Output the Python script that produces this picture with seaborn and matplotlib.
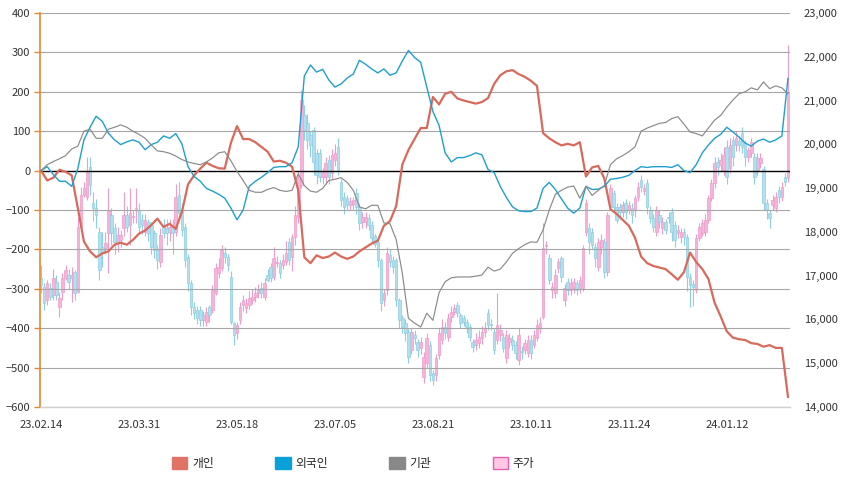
import numpy as np
import pandas as pd
import matplotlib
matplotlib.use("Agg")
import matplotlib.pyplot as plt
from matplotlib.patches import Patch
import seaborn as sns

# x axis labels (one every 32 trading days)
date_labels = ["23.02.14", "23.03.31", "23.05.18", "23.07.05",
               "23.08.21", "23.10.11", "23.11.24", "24.01.12"]

# cumulative net buying, sampled every 2 trading days
individual = [0, -25, -18, 2, -3, -12, -95, -180, -205, -220, -210, -205, -188, -183, -188, -176,
              -160, -152, -138, -122, -143, -135, -148, -105, -35, -12, 5, 20, 12, 6, 5, 70,
              113, 80, 80, 72, 60, 48, 23, 25, 20, 10, -50, -220, -235, -215, -222, -218,
              -208, -218, -224, -218, -205, -195, -185, -178, -140, -128, -90, 15, 52, 80, 108, 108,
              187, 168, 195, 200, 183, 178, 174, 170, 174, 184, 220, 242, 252, 255, 245, 238,
              228, 215, 95, 82, 72, 64, 68, 64, 72, -15, 8, 12, -20, -98, -110, -125,
              -140, -170, -218, -235, -242, -246, -250, -263, -277, -258, -208, -232, -250, -275, -335, -370,
              -408, -424, -428, -430, -438, -440, -447, -443, -450, -450, -575]
foreign = [0, 10, -10, -27, -27, -40, 5, 78, 110, 138, 125, 95, 78, 66, 73, 78,
           72, 53, 66, 72, 88, 82, 94, 68, 10, -15, -27, -45, -52, -60, -70, -95,
           -125, -100, -40, -27, -17, -5, 8, 10, 10, 20, 60, 240, 268, 250, 257, 230,
           212, 220, 235, 245, 280, 270, 258, 248, 258, 242, 248, 278, 305, 287, 275, 212,
           150, 115, 45, 22, 33, 33, 38, 45, 40, 3, -5, -40, -68, -92, -102, -104,
           -104, -95, -45, -30, -48, -72, -95, -108, -95, -40, -48, -47, -40, -22, -20, -17,
           -12, 0, 10, 8, 10, 10, 10, 8, 15, 0, -5, 15, 45, 65, 82, 92,
           110, 98, 85, 70, 62, 75, 80, 72, 78, 88, 235]
institution = [0, 15, 23, 30, 38, 55, 62, 100, 105, 82, 82, 105, 110, 116, 110, 100,
               92, 82, 65, 50, 48, 44, 37, 28, 22, 18, 15, 22, 32, 45, 48, 25,
               -2, -25, -50, -55, -55, -48, -43, -50, -53, -50, -8, -38, -52, -55, -45, -25,
               -22, -18, -30, -50, -92, -97, -88, -88, -133, -135, -175, -260, -375, -387, -397, -362,
               -380, -310, -282, -272, -270, -270, -270, -268, -265, -245, -255, -250, -232, -210, -198, -188,
               -181, -182, -150, -100, -60, -50, -42, -39, -70, -40, -63, -50, -38, 15, 30, 38,
               48, 60, 100, 108, 114, 120, 122, 132, 137, 118, 98, 94, 88, 108, 128, 140,
               161, 179, 195, 200, 210, 205, 225, 208, 215, 210, 195]

# daily price candles
price_open = [16950, 16740, 16440, 16720, 16560, 16860, 16280, 16630, 16950, 17020,
              16950, 17080, 16630, 18110, 18840, 18800, 19480, 18660, 18550, 18000,
              17660, 17630, 17970, 18390, 18090, 17770, 17820, 18090, 18390, 18160,
              18330, 18500, 18500, 18270, 17990, 18230, 18160, 17970, 17590, 17310,
              18110, 18090, 17990, 18110, 18000, 18840, 18500, 18110, 17430, 16830,
              16280, 16220, 16210, 15990, 15940, 16280, 16220, 16600, 17060, 17180,
              17520, 17430, 16970, 15920, 15690, 15990, 16330, 16260, 16330, 16440,
              16510, 16600, 16720, 16510, 17020, 17200, 16970, 17290, 17290, 17240,
              17310, 17770, 17430, 17880, 18340, 19070, 20670, 20490, 20210, 20330,
              19800, 19800, 19250, 19250, 19640, 19340, 19640, 19940, 19140, 18800,
              18770, 18610, 18640, 18890, 18570, 18220, 18220, 18320, 18160, 17900,
              17770, 17360, 16450, 16670, 17470, 17360, 17360, 16440, 16030, 15920,
              15710, 15300, 15650, 15480, 15350, 14680, 15000, 15420, 14780, 14730,
              15190, 15530, 15830, 15600, 16050, 16170, 16330, 16100, 16030, 15940,
              15830, 15480, 15420, 15460, 15580, 15710, 16150, 15880, 15710, 15530,
              15650, 15600, 15120, 15480, 15530, 15420, 15070, 15260, 15300, 15230,
              15530, 15420, 15570, 15800, 16060, 17670, 17400, 16670, 16600, 17170,
              17400, 16440, 16850, 16670, 16720, 16830, 16720, 16720, 18000, 18090,
              18000, 17650, 17200, 17650, 17770, 17080, 18570, 18890, 18570, 18570,
              18450, 18660, 18500, 18540, 18500, 18800, 19190, 18930, 19110, 18500,
              18320, 18000, 18390, 18090, 18230, 18330, 18450, 18160, 17970, 17880,
              17990, 17880, 16970, 16810, 16670, 17860, 17970, 18000, 18270, 18770,
              19110, 19600, 19530, 19410, 19940, 19460, 20100, 19980, 20080, 20260,
              20030, 19710, 19800, 19710, 19410, 19570, 19440, 18660, 18430, 18610,
              18550, 18960, 18800, 19250, 19230]
price_close = [16790, 16380, 16830, 16510, 16950, 16560, 16490, 16950, 17130, 16860,
               17020, 16600, 18110, 18840, 19000, 19370, 19070, 18550, 18390, 17130,
               17520, 17750, 18500, 17970, 17770, 17930, 17930, 18390, 18110, 18430,
               18360, 18550, 18110, 18160, 18270, 17970, 17660, 17590, 17360, 17930,
               17970, 17970, 18110, 17970, 18800, 18430, 18040, 17360, 16830, 16280,
               16150, 16030, 15990, 16100, 16170, 16100, 16670, 17180, 17200, 17590,
               17430, 17240, 15940, 15650, 15870, 16280, 16440, 16380, 16490, 16510,
               16600, 16670, 16600, 16830, 16900, 16950, 17400, 17310, 17060, 17360,
               17520, 17360, 17880, 18390, 19230, 21010, 20330, 20100, 19990, 19600,
               19300, 19250, 19370, 19570, 19250, 19760, 19800, 19410, 18730, 18570,
               18610, 18700, 18730, 18570, 18200, 18340, 18340, 18160, 17860, 17720,
               17360, 16380, 16600, 17520, 17310, 17200, 16440, 15990, 15830, 15690,
               15140, 15710, 15580, 15300, 15480, 15140, 15570, 14730, 14620, 15120,
               15690, 15830, 15690, 16030, 16170, 16260, 16150, 15920, 15940, 15830,
               15600, 15370, 15530, 15600, 15710, 15800, 15870, 15870, 15300, 15870,
               15760, 15350, 15650, 15570, 15420, 15230, 15650, 15250, 15460, 15530,
               15230, 15650, 15870, 15920, 17630, 17700, 16900, 16740, 17010, 17310,
               16970, 16720, 16670, 16830, 16850, 16670, 16900, 17630, 18660, 17770,
               17700, 17400, 17770, 17810, 17080, 18390, 19000, 18570, 18270, 18450,
               18610, 18450, 18610, 18390, 18770, 19030, 19030, 19000, 18570, 18320,
               18110, 18500, 18230, 18230, 18040, 18310, 17990, 17810, 18040, 17990,
               17880, 16970, 16790, 16740, 17860, 18110, 18200, 18270, 18770, 19110,
               19570, 19480, 19640, 19760, 19250, 19980, 19710, 20140, 19990, 19940,
               19710, 19870, 20050, 19250, 19690, 19690, 18660, 18500, 18320, 18730,
               18800, 18800, 19030, 19140, 21200]
price_high = [17240, 16830, 16900, 16830, 17150, 17010, 16630, 17060, 17240, 17150,
              17200, 17130, 18340, 19030, 19140, 19710, 19700, 18900, 18750, 18110,
              18000, 18000, 19000, 18550, 18200, 18110, 18050, 18900, 18600, 19000,
              18500, 19000, 18660, 18400, 18400, 18300, 18230, 18050, 17700, 18100,
              18300, 18300, 18300, 18300, 19100, 19140, 18660, 18200, 17500, 16900,
              16400, 16300, 16300, 16200, 16280, 16330, 16780, 17300, 17400, 17700,
              17650, 17500, 17100, 15950, 15950, 16400, 16550, 16500, 16650, 16700,
              16750, 16800, 16850, 16950, 17150, 17300, 17650, 17450, 17350, 17500,
              17800, 17850, 17950, 18600, 19400, 21250, 20900, 20700, 20300, 20400,
              19900, 19900, 19450, 19700, 19750, 19900, 20000, 20150, 19200, 18900,
              18850, 18800, 18800, 19000, 18650, 18450, 18450, 18400, 18250, 17950,
              17850, 17400, 16700, 17650, 17600, 17450, 17400, 16500, 16100, 16000,
              15800, 15800, 15750, 15550, 15600, 15250, 15700, 15500, 14850, 15200,
              15800, 16000, 15950, 16150, 16300, 16350, 16400, 16150, 16100, 16000,
              15900, 15550, 15700, 15750, 15850, 15950, 16250, 16000, 15800, 16600,
              15900, 15700, 15750, 15700, 15650, 15500, 15800, 15400, 15550, 15650,
              15650, 15750, 16000, 16050, 18200, 17800, 17500, 16850, 17150, 17400,
              17450, 16800, 16950, 16950, 16950, 16900, 17000, 17700, 18750, 18200,
              18100, 17750, 17850, 17950, 17850, 18450, 19100, 18950, 18650, 18650,
              18700, 18750, 18700, 18650, 18850, 19150, 19300, 19100, 19200, 18600,
              18400, 18600, 18500, 18350, 18300, 18450, 18550, 18250, 18150, 18100,
              18100, 17950, 17050, 16900, 17950, 18200, 18300, 18400, 18850, 19200,
              19700, 19700, 19800, 19950, 20100, 20150, 20200, 20300, 20200, 20400,
              20100, 19950, 20150, 19800, 19800, 19800, 19500, 18750, 18500, 18850,
              18900, 19050, 19150, 19350, 22270]
price_low = [16600, 16210, 16330, 16440, 16440, 16440, 16060, 16440, 16900, 16700,
             16400, 16440, 16600, 18050, 18790, 18730, 18840, 18250, 18090, 16900,
             17200, 17500, 17060, 17700, 17500, 17550, 17650, 17900, 18000, 17700,
             18200, 18200, 17950, 17950, 17900, 17800, 17500, 17400, 17160, 17200,
             17850, 17700, 17800, 17500, 17900, 18300, 17900, 17200, 16650, 16100,
             16000, 15900, 15850, 15850, 15850, 15950, 16150, 16550, 16950, 17100,
             17300, 17100, 15900, 15420, 15550, 15900, 16200, 16150, 16250, 16350,
             16400, 16500, 16500, 16450, 16850, 16850, 16900, 17200, 16950, 17150,
             17250, 17250, 17100, 17700, 18200, 19000, 20100, 19900, 19700, 19300,
             19100, 19150, 19100, 19100, 19100, 19200, 19500, 19300, 18600, 18400,
             18500, 18500, 18500, 18400, 18050, 18100, 18100, 18050, 17750, 17650,
             17200, 16200, 16300, 16550, 17200, 17050, 16300, 15800, 15700, 15500,
             15000, 15200, 15450, 15150, 15200, 14550, 14900, 14600, 14500, 14600,
             15100, 15450, 15550, 15500, 15950, 16100, 16050, 15800, 15850, 15700,
             15500, 15250, 15300, 15350, 15450, 15600, 15750, 15750, 15200, 15450,
             15500, 15250, 15000, 15350, 15300, 15100, 14950, 15100, 15200, 15150,
             15100, 15350, 15500, 15700, 16000, 17500, 16800, 16500, 16500, 17050,
             16850, 16300, 16550, 16550, 16600, 16550, 16600, 16650, 17900, 17500,
             17600, 17200, 17100, 17500, 16950, 17000, 18500, 18450, 18200, 18300,
             18350, 18300, 18400, 18200, 18350, 18700, 18900, 18850, 18400, 18200,
             18000, 17900, 18100, 17950, 17950, 18200, 17800, 17650, 17850, 17750,
             17700, 16650, 16280, 16300, 16600, 17800, 17900, 17900, 18200, 18700,
             19000, 19300, 19400, 19300, 19100, 19350, 19500, 19850, 19850, 19800,
             19500, 19600, 19700, 19100, 19300, 19450, 18500, 18300, 18100, 18500,
             18450, 18650, 18700, 19050, 19150]

series_names = ["개인", "외국인", "기관"]
series_colors = {"개인": "#d9695b", "외국인": "#1f9fcf", "기관": "#8a8a8a"}
series_widths = {"개인": 1.6, "외국인": 1.0, "기관": 0.85}

sns.set_theme(style="white")
plt.rcParams["font.family"] = ["Noto Sans CJK KR", "DejaVu Sans"]

line_days = np.arange(0, 2 * len(individual), 2)
lines = pd.DataFrame({
    "day": np.tile(line_days, 3),
    "value": individual + foreign + institution,
    "series": np.repeat(series_names, len(line_days)),
})

candles = pd.DataFrame({"open": price_open, "close": price_close,
                        "high": price_high, "low": price_low})
candles["day"] = np.arange(len(candles))
up = candles["close"] >= candles["open"]

fig = plt.figure(figsize=(8.41, 4.80), dpi=100)
ax = fig.add_axes([40 / 841, 1 - 407 / 480, 750 / 841, 394 / 480])
ax2 = ax.twinx()

# candles on the price axis (drawn underneath)
pink_body, pink_edge = "#f7b4da", "#ee9ccb"
blue_body, blue_edge = "#b3e0ee", "#8dcfe3"
for is_up, body, edge in [(True, pink_body, pink_edge), (False, blue_body, blue_edge)]:
    sub = candles[up == is_up]
    ax2.vlines(sub["day"], sub["low"], sub["high"], color=edge, lw=0.8, zorder=1)
    ax2.bar(sub["day"], (sub["close"] - sub["open"]).abs().clip(lower=25),
            bottom=sub[["open", "close"]].min(axis=1), width=0.85,
            color=body, edgecolor=edge, linewidth=0.5, zorder=2)

ax2.set_ylim(14000, 23000)
ax2.set_yticks(range(14000, 23001, 1000))
ax2.set_yticklabels([f"{v:,}" for v in range(14000, 23001, 1000)])
ax2.tick_params(axis="y", length=0, pad=10, labelsize=8, labelcolor="#333333")
for s in ax2.spines.values():
    s.set_visible(False)

# investor lines on the left axis (drawn on top)
ax.set_zorder(ax2.get_zorder() + 1)
ax.patch.set_visible(False)
for v in range(-600, 401, 100):
    ax.axhline(v, color="#000000" if v == 0 else "#a6a6a6",
               lw=1.0 if v == 0 else 0.8, zorder=0)
sns.lineplot(data=lines, x="day", y="value", hue="series", size="series",
             palette=series_colors, sizes=series_widths, legend=False, ax=ax, zorder=3)

ax.set_ylim(-600, 400)
ax.set_yticks(range(-600, 401, 100))
ax.set_xlim(-0.35, len(candles) - 0.35)
ax.set_xticks(np.arange(len(date_labels)) * 32)
ax.set_xticklabels(date_labels)
ax.set_xlabel("")
ax.set_ylabel("")
ax.tick_params(axis="y", length=4, width=1, color="#e8872e", labelsize=8,
               labelcolor="#333333", pad=3)
ax.tick_params(axis="x", length=4, width=0.8, color="#c8c8c8", labelsize=8,
               labelcolor="#333333", pad=5)
ax.spines["left"].set_color("#e8872e")
ax.spines["left"].set_linewidth(1.2)
ax.spines["bottom"].set_color("#d0d0d0")
ax.spines["bottom"].set_linewidth(1.0)
ax.spines["top"].set_visible(False)
ax.spines["right"].set_visible(False)

handles = [Patch(facecolor="#e07366", edgecolor="#e07366"),
           Patch(facecolor="#0aa0d8", edgecolor="#0aa0d8"),
           Patch(facecolor="#888888", edgecolor="#888888"),
           Patch(facecolor="#ffc6e6", edgecolor="#e060b0")]
fig.legend(handles, ["개인", "외국인", "기관", "주가"], loc="center", ncol=4,
           bbox_to_anchor=(0.42, 0.035), frameon=False, fontsize=8.5,
           handlelength=1.3, handleheight=1.3, handletextpad=0.4, columnspacing=5.2)

fig.savefig("out.png", dpi=100)
